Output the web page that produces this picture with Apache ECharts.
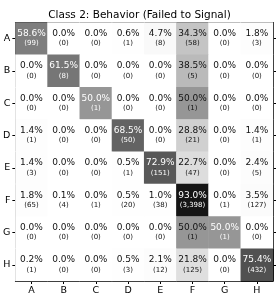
<!DOCTYPE html>
<html><head><meta charset="utf-8">
<script src="https://cdn.jsdelivr.net/npm/echarts@6/dist/echarts.min.js"></script>
<style>html,body{margin:0;padding:0;background:#fff}#c{width:279px;height:298px}</style>
</head><body><div id="c"></div>
<script>
var labels = ['A','B','C','D','E','F','G','H'];
var pctA = [58.6, 0.0, 0.0, 0.6, 4.7, 34.3, 0.0, 1.8];
var pctB = [0.0, 61.5, 0.0, 0.0, 0.0, 38.5, 0.0, 0.0];
var pctC = [0.0, 0.0, 50.0, 0.0, 0.0, 50.0, 0.0, 0.0];
var pctD = [1.4, 0.0, 0.0, 68.5, 0.0, 28.8, 0.0, 1.4];
var pctE = [1.4, 0.0, 0.0, 0.5, 72.9, 22.7, 0.0, 2.4];
var pctF = [1.8, 0.1, 0.0, 0.5, 1.0, 93.0, 0.0, 3.5];
var pctG = [0.0, 0.0, 0.0, 0.0, 0.0, 50.0, 50.0, 0.0];
var pctH = [0.2, 0.0, 0.0, 0.5, 2.1, 21.8, 0.0, 75.4];
var cntA = [99, 0, 0, 1, 8, 58, 0, 3];
var cntB = [0, 8, 0, 0, 0, 5, 0, 0];
var cntC = [0, 0, 1, 0, 0, 1, 0, 0];
var cntD = [1, 0, 0, 50, 0, 21, 0, 1];
var cntE = [3, 0, 0, 1, 151, 47, 0, 5];
var cntF = [65, 4, 1, 20, 38, 3398, 1, 127];
var cntG = [0, 0, 0, 0, 0, 1, 1, 0];
var cntH = [1, 0, 0, 3, 12, 125, 0, 432];

var pcts = [pctA, pctB, pctC, pctD, pctE, pctF, pctG, pctH];
var cnts = [cntA, cntB, cntC, cntD, cntE, cntF, cntG, cntH];
var data = [];
for (var i = 0; i < 8; i++) {
  for (var j = 0; j < 8; j++) {
    var diag = i === j;
    data.push({
      value: [j, i, pcts[i][j], cnts[i][j]],
      label: {
        rich: {
          p: {fontSize: 9, lineHeight: 10, color: diag ? '#fff' : '#111', fontFamily: 'DejaVu Sans'},
          c: {fontSize: 7, lineHeight: 10, color: diag ? '#fff' : '#111', fontFamily: 'DejaVu Sans'}
        }
      }
    });
  }
}
var font = 'DejaVu Sans';
var chart = echarts.init(document.getElementById('c'));
var axLine = {show: true, lineStyle: {color: '#000', width: 1}};
chart.setOption({
  animation: false,
  title: {text: 'Class 2: Behavior (Failed to Signal)', left: 'center', top: 5,
    textStyle: {fontFamily: font, fontSize: 10.5, fontWeight: 'normal', color: '#000'}},
  grid: {left: 15, top: 22.5, width: 258, height: 258.5},
  xAxis: [
    {type: 'category', data: labels, position: 'bottom',
      axisLine: axLine, axisTick: {show: true, alignWithLabel: true, length: 3, lineStyle: {color: '#000'}},
      axisLabel: {fontFamily: font, fontSize: 9.5, color: '#000', margin: 5}, splitLine: {show: false}},
    {type: 'category', data: labels, position: 'top',
      axisLine: axLine, axisTick: {show: true, inside: true, alignWithLabel: true, length: 3, lineStyle: {color: '#000'}},
      axisLabel: {show: false}, splitLine: {show: false}}
  ],
  yAxis: [
    {type: 'category', data: labels, inverse: true, position: 'left',
      axisLine: axLine, axisTick: {show: true, alignWithLabel: true, length: 3, lineStyle: {color: '#000'}},
      axisLabel: {fontFamily: font, fontSize: 9.5, color: '#000', margin: 5}, splitLine: {show: false}},
    {type: 'category', data: labels, inverse: true, position: 'right',
      axisLine: axLine, axisTick: {show: true, alignWithLabel: true, length: 3, lineStyle: {color: '#000'}},
      axisLabel: {show: false}, splitLine: {show: false}}
  ],
  visualMap: {show: false, min: 0, max: 100, dimension: 2, seriesIndex: 0,
    inRange: {color: ['#ffffff','#f0f0f0','#d9d9d9','#bdbdbd','#969696','#737373','#525252','#252525','#000000']}},
  series: [{
    type: 'heatmap', xAxisIndex: 0, yAxisIndex: 0,
    data: data,
    label: {show: true, formatter: function (p) {
      return '{p|' + p.value[2].toFixed(1) + '%}\n{c|(' + p.value[3].toLocaleString('en-US') + ')}';
    }},
    itemStyle: {borderWidth: 0},
    emphasis: {disabled: true}
  }]
});
</script></body></html>
